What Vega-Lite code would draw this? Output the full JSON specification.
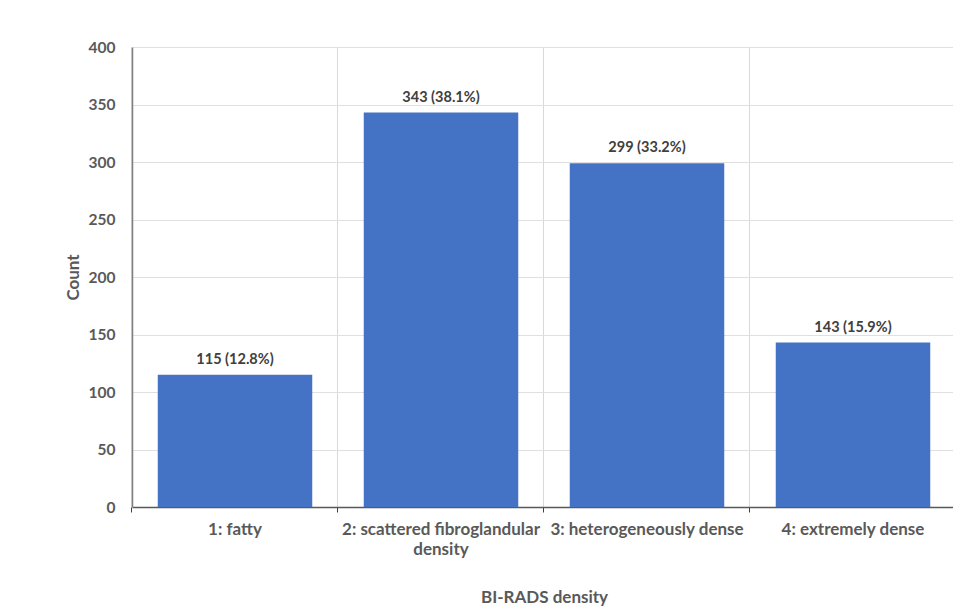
{
  "$schema": "https://vega.github.io/schema/vega-lite/v6.json",
  "autosize": {"type": "none"},
  "width": 824,
  "height": 460,
  "padding": {"left": 132, "top": 47, "right": 0, "bottom": 105},
  "background": "white",
  "config": {
    "font": "Lato",
    "view": {"stroke": null},
    "axis": {"labelFont": "Lato", "titleFont": "Lato", "labelColor": "#595959", "titleColor": "#595959", "labelFontWeight": "bold", "titleFontWeight": "bold", "labelFontSize": 15.5, "titleFontSize": 17}
  },
  "data": {
    "values": [
      {"category": "1: fatty", "count": 115, "label": "115 (12.8%)"},
      {"category": "2: scattered fibroglandular density", "count": 343, "label": "343 (38.1%)"},
      {"category": "3: heterogeneously dense", "count": 299, "label": "299 (33.2%)"},
      {"category": "4: extremely dense", "count": 143, "label": "143 (15.9%)"}
    ]
  },
  "encoding": {
    "x": {
      "field": "category", "type": "nominal", "sort": null,
      "scale": {"paddingInner": 0.25, "paddingOuter": 0.125},
      "axis": {
        "title": "BI-RADS density",
        "labelAngle": 0,
        "labelFontSize": 17,
        "labelLimit": 400,
        "labelExpr": "datum.label == '2: scattered fibroglandular density' ? ['2: scattered fibroglandular', 'density'] : datum.label",
        "labelPadding": 9,
        "labelLineHeight": 20,
        "labelBaseline": "top",
        "labelBound": false,
        "labelOverlap": false,
        "tickSize": 5,
        "tickColor": "#404040",
        "bandPosition": -0.16667,
        "domainColor": "#595959",
        "domainWidth": 1.5,
        "grid": true,
        "gridColor": "#d9d9d9",
        "titleY": 90,
        "titleBaseline": "middle"
      }
    },
    "y": {
      "field": "count", "type": "quantitative",
      "scale": {"domain": [0, 400]},
      "axis": {
        "title": "Count",
        "values": [0, 50, 100, 150, 200, 250, 300, 350, 400],
        "ticks": false,
        "labelPadding": 17,
        "domain": true,
        "domainColor": "#7f7f7f",
        "domainWidth": 1.5,
        "gridColor": "#e0e0e0",
        "titleX": -59,
        "titleBaseline": "middle"
      }
    }
  },
  "layer": [
    {"mark": {"type": "bar", "color": "#4472C4"}},
    {
      "mark": {"type": "text", "baseline": "bottom", "dy": -8, "font": "Lato", "fontWeight": "bold", "fontSize": 14.5, "color": "#404040"},
      "encoding": {"text": {"field": "label"}}
    }
  ]
}
